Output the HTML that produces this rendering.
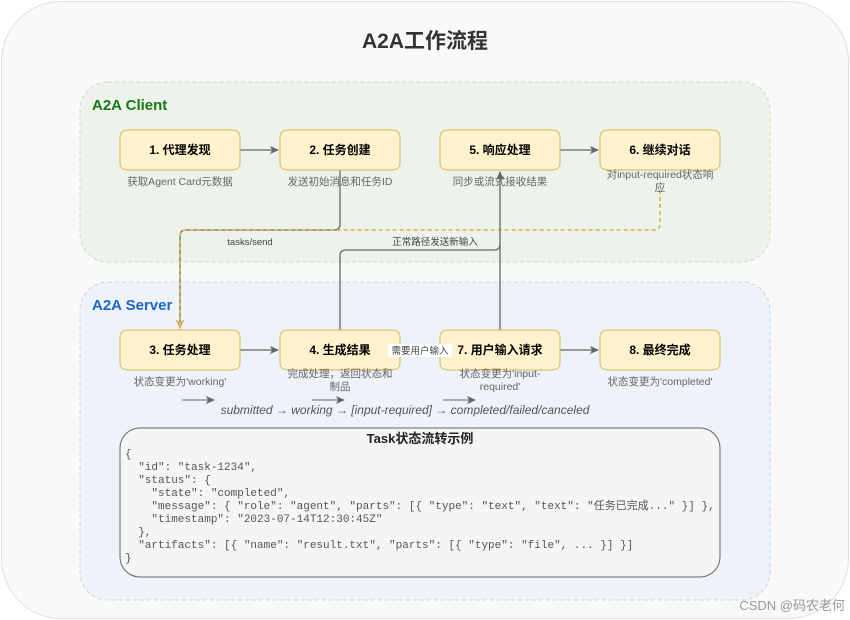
<!DOCTYPE html>
<html><head><meta charset="utf-8"><style>
body{margin:0;background:#fff}
svg{display:block;font-family:"Liberation Sans","Noto Sans CJK SC",sans-serif}
.n{fill:#fff2cc;stroke:#d6b656;stroke-width:1}
.nt{font-size:12px;font-weight:bold;text-anchor:middle;fill:#000}
.c{font-size:10.5px;fill:#666;text-anchor:middle}
.m{font-family:"Liberation Mono","Noto Sans CJK SC",monospace;font-size:11px;fill:#555}
</style></head><body>
<svg width="850" height="620" viewBox="0 0 850 620">
<defs>
<marker id="a" markerWidth="10" markerHeight="10" refX="8" refY="5" orient="auto" markerUnits="userSpaceOnUse"><path d="M0,1 L9,5 L0,9 L2,5z" fill="#666"/></marker>
<marker id="y" markerWidth="10" markerHeight="10" refX="8" refY="5" orient="auto" markerUnits="userSpaceOnUse"><path d="M0,1 L9,5 L0,9 L2,5z" fill="#d6b656"/></marker>
</defs>
<rect x="1.5" y="1.5" width="847" height="617" rx="60" fill="#f9f9f9" stroke="#e0e0e0"/>
<text x="425" y="48" font-size="21" font-weight="bold" text-anchor="middle" fill="#333">A2A工作流程</text>
<rect x="80" y="82" width="690" height="180" rx="28" fill="#edf3eb" stroke="#c5dcc0" stroke-dasharray="4 3"/>
<text x="92" y="110" font-size="15" font-weight="bold" fill="#157a15">A2A Client</text>
<rect x="80" y="282" width="690" height="318" rx="28" fill="#eef2f9" stroke="#c3d1ec" stroke-dasharray="4 3"/>
<text x="92" y="310" font-size="15" font-weight="bold" fill="#1a66cc">A2A Server</text>

<path d="M340,170 V224 Q340,230 334,230 H186 Q180,230 180,236 V328" fill="none" stroke="#666" stroke-width="1.3" marker-end="url(#a)"/>
<path d="M660,190 V224 Q660,230 654,230 H186 Q180,230 180,236 V328" fill="none" stroke="#d8b445" stroke-width="1.6" stroke-dasharray="4 3" marker-end="url(#y)"/>
<rect x="228" y="236" width="44" height="12" fill="#edf3eb"/>
<text x="250" y="245" font-size="9.5" fill="#444" text-anchor="middle">tasks/send</text>
<path d="M340,330 V256 Q340,250 346,250 H494 Q500,250 500,244" fill="none" stroke="#666" stroke-width="1.3"/>
<path d="M500,330 V172" fill="none" stroke="#666" stroke-width="1.3" marker-end="url(#a)"/>
<rect x="392" y="236" width="88" height="12" fill="#edf3eb"/>
<text x="435" y="245" font-size="9.5" fill="#444" text-anchor="middle">正常路径发送新输入</text>
<line x1="240" y1="150" x2="278" y2="150" stroke="#666" stroke-width="1.3" marker-end="url(#a)"/>
<line x1="560" y1="150" x2="598" y2="150" stroke="#666" stroke-width="1.3" marker-end="url(#a)"/>
<line x1="240" y1="350" x2="278" y2="350" stroke="#666" stroke-width="1.3" marker-end="url(#a)"/>
<line x1="400" y1="350" x2="438" y2="350" stroke="#666" stroke-width="1.3" marker-end="url(#a)"/>
<line x1="560" y1="350" x2="598" y2="350" stroke="#666" stroke-width="1.3" marker-end="url(#a)"/>

<rect class="n" x="120" y="130" width="120" height="40" rx="7"/><text class="nt" x="180" y="154">1. 代理发现</text>
<rect class="n" x="280" y="130" width="120" height="40" rx="7"/><text class="nt" x="340" y="154">2. 任务创建</text>
<rect class="n" x="440" y="130" width="120" height="40" rx="7"/><text class="nt" x="500" y="154">5. 响应处理</text>
<rect class="n" x="600" y="130" width="120" height="40" rx="7"/><text class="nt" x="660" y="154">6. 继续对话</text>
<text class="c" x="180" y="185">获取Agent Card元数据</text>
<text class="c" x="340" y="185">发送初始消息和任务ID</text>
<text class="c" x="500" y="185">同步或流式接收结果</text>
<text class="c" x="660" y="178">对input-required状态响</text>
<text class="c" x="660" y="191">应</text>

<rect class="n" x="120" y="330" width="120" height="40" rx="7"/><text class="nt" x="180" y="354">3. 任务处理</text>
<rect class="n" x="280" y="330" width="120" height="40" rx="7"/><text class="nt" x="340" y="354">4. 生成结果</text>
<rect class="n" x="440" y="330" width="120" height="40" rx="7"/><text class="nt" x="500" y="354">7. 用户输入请求</text>
<rect class="n" x="600" y="330" width="120" height="40" rx="7"/><text class="nt" x="660" y="354">8. 最终完成</text>
<rect x="388" y="344" width="64" height="13" fill="#fff"/>
<text x="420" y="354" font-size="9.5" fill="#444" text-anchor="middle">需要用户输入</text>
<text class="c" x="180" y="385">状态变更为'working'</text>
<text class="c" x="340" y="377">完成处理，返回状态和</text>
<text class="c" x="340" y="390">制品</text>
<text class="c" x="500" y="377">状态变更为'input-</text>
<text class="c" x="500" y="390">required'</text>
<text class="c" x="660" y="385">状态变更为'completed'</text>

<line x1="182" y1="400" x2="214" y2="400" stroke="#666" marker-end="url(#a)"/>
<line x1="312" y1="400" x2="344" y2="400" stroke="#666" marker-end="url(#a)"/>
<line x1="443" y1="400" x2="475" y2="400" stroke="#666" marker-end="url(#a)"/>
<text x="405" y="414" font-size="12" font-style="italic" fill="#555" text-anchor="middle">submitted → working → [input-required] → completed/failed/canceled</text>

<rect x="120" y="428" width="600" height="149" rx="20" fill="#f5f5f5" stroke="#666"/>
<text x="420" y="443" font-size="13" font-weight="bold" text-anchor="middle" fill="#222">Task状态流转示例</text>
<text class="m" x="125" y="457" xml:space="preserve">{</text>
<text class="m" x="125" y="470" xml:space="preserve">  "id": "task-1234",</text>
<text class="m" x="125" y="483" xml:space="preserve">  "status": {</text>
<text class="m" x="125" y="496" xml:space="preserve">    "state": "completed",</text>
<text class="m" x="125" y="509" xml:space="preserve">    "message": { "role": "agent", "parts": [{ "type": "text", "text": "任务已完成..." }] },</text>
<text class="m" x="125" y="522" xml:space="preserve">    "timestamp": "2023-07-14T12:30:45Z"</text>
<text class="m" x="125" y="535" xml:space="preserve">  },</text>
<text class="m" x="125" y="548" xml:space="preserve">  "artifacts": [{ "name": "result.txt", "parts": [{ "type": "file", ... }] }]</text>
<text class="m" x="125" y="561" xml:space="preserve">}</text>
<text x="845" y="610" font-size="13" fill="#999" text-anchor="end">CSDN @码农老何</text>
</svg>
</body></html>
